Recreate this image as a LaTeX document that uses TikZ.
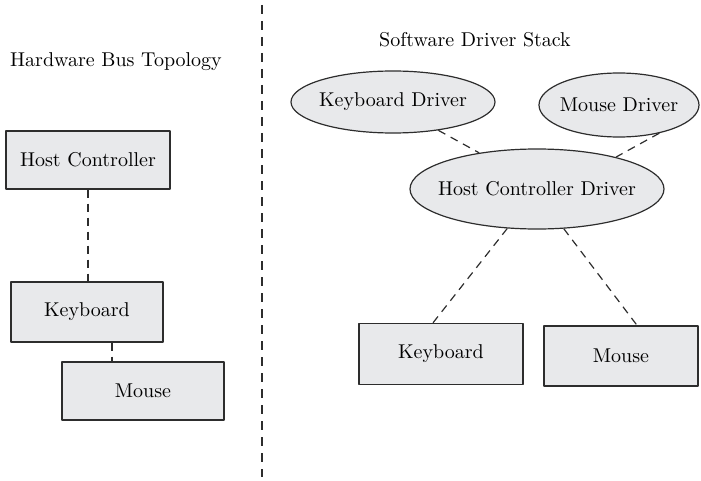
\documentclass[tikz,border=0pt]{standalone}
\usepackage{tikz}
\usetikzlibrary{positioning, shapes.geometric}

\definecolor{boxfill}{RGB}{232,233,235}
\definecolor{boxline}{RGB}{45,45,45}

\tikzset{
  hwbox/.style={draw=boxline, fill=boxfill, line width=0.7pt, inner sep=0pt},
  drv/.style={ellipse, draw=boxline, fill=boxfill, line width=0.6pt, inner xsep=-8pt, inner ysep=0pt},
  link/.style={draw=boxline, line width=0.6pt, dash pattern=on 4pt off 3pt},
  divider/.style={draw=boxline, line width=0.7pt, dash pattern=on 4.5pt off 3.5pt}
}

\begin{document}
\begin{tikzpicture}[x=0.5pt, y=-0.5pt, line cap=butt, line join=round]
  \useasboundingbox (0,0) rectangle (701,481);
  % divider between the two halves
  \coordinate (divtop) at (262,5);
  \coordinate (divbot) at (262,477);
  \draw[divider] (divtop) -- (divbot);
  % titles
  \node (hwtitle) at (116,62) {Hardware Bus Topology};
  \node (swtitle) at (475,40) {Software Driver Stack};
  % hardware bus topology
  \node[hwbox, minimum width=82pt, minimum height=29pt] (hc) at (88,160) {Host Controller};
  \node[hwbox, minimum width=76pt, minimum height=30pt] (kb) at (87,312) {Keyboard};
  \node[hwbox, minimum width=81pt, minimum height=29pt] (ms) at (143,391) {Mouse};
  \draw[link] (hc.south) -- (hc.south |- kb.north);
  \draw[link] ([xshift=12.5pt]kb.south) -- ([xshift=12.5pt]kb.south |- ms.north);
  % software driver stack
  \node[drv, minimum width=102pt, minimum height=31pt] (kbd) at (393,102) {Keyboard Driver};
  \node[drv, minimum width=80pt, minimum height=32pt] (msd) at (619,105) {Mouse Driver};
  \node[drv, minimum width=127pt, minimum height=40pt] (hcd) at (537,189) {Host Controller Driver};
  \node[hwbox, minimum width=82pt, minimum height=30.5pt] (kbs) at (441,354) {Keyboard};
  \node[hwbox, minimum width=77pt, minimum height=30pt] (mss) at (621,356) {Mouse};
  \draw[link] (kbd.-32) -- (hcd.148);
  \draw[link] (msd.-35) -- (hcd.22);
  \draw[link] (hcd.-127) -- ([xshift=-4pt]kbs.north);
  \draw[link] (hcd.-56) -- ([xshift=8pt]mss.north);
\end{tikzpicture}
\end{document}
